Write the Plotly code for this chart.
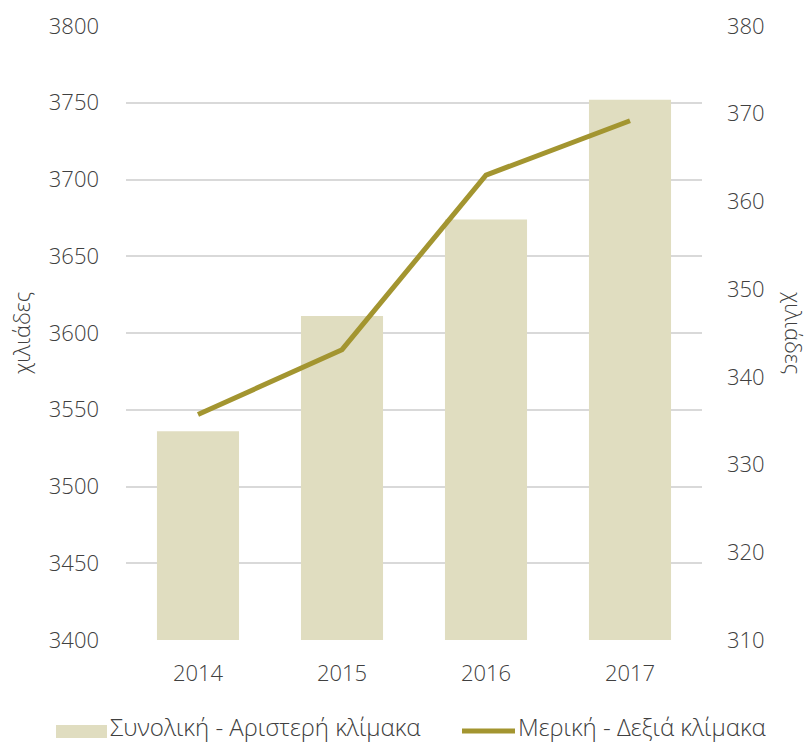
import plotly.graph_objects as go

years = ["2014", "2015", "2016", "2017"]
total = [3536, 3611, 3674, 3752]       # left scale, thousands
partial = [335.7, 343.1, 363.0, 369.2]  # right scale, thousands

left_ticks = [3400, 3450, 3500, 3550, 3600, 3650, 3700, 3750, 3800]
right_ticks = [310, 320, 330, 340, 350, 360, 370, 380]

bar_name = "Συνολική - Αριστερή κλίμακα"
line_name = "Μερική - Δεξιά κλίμακα"
axis_title = "χιλιάδες"

bar_color = "#E0DDC0"
line_color = "#A39530"
text_color = "#404040"
font_family = "Open Sans"
tick_size = 22
legend_size = 24

W, H = 812, 742
L, R, T, B = 126, 110, 26, 102
PW, PH = W - L - R, H - T - B


def px_x(px):
    """Horizontal pixel position -> paper coordinate."""
    return (px - L) / PW


def px_y(py):
    """Vertical pixel position (from top) -> paper coordinate."""
    return (H - B - py) / PH


fig = go.Figure()
fig.add_trace(go.Bar(
    x=years, y=total, name=bar_name,
    marker=dict(color=bar_color, line=dict(width=0)), width=0.57, yaxis="y",
))
fig.add_trace(go.Scatter(
    x=years, y=partial, name=line_name, mode="lines",
    line=dict(color=line_color, width=5), yaxis="y2",
))

# legend drawn below the plot: swatch + label for each series
legend_y = 731
text_y = 726
shapes = [
    dict(type="rect", xref="paper", yref="paper",
         x0=px_x(56), x1=px_x(107), y0=px_y(738), y1=px_y(725),
         fillcolor=bar_color, line=dict(width=0), layer="above"),
    dict(type="line", xref="paper", yref="paper",
         x0=px_x(462), x1=px_x(515), y0=px_y(legend_y), y1=px_y(legend_y),
         line=dict(color=line_color, width=5), layer="above"),
]
annotations = [
    dict(text=bar_name, xref="paper", yref="paper", x=px_x(108), y=px_y(text_y),
         xanchor="left", yanchor="middle", showarrow=False,
         font=dict(size=legend_size, color=text_color)),
    dict(text=line_name, xref="paper", yref="paper", x=px_x(516), y=px_y(text_y),
         xanchor="left", yanchor="middle", showarrow=False,
         font=dict(size=legend_size, color=text_color)),
    dict(text=axis_title, xref="paper", yref="paper", x=px_x(21), y=0.5,
         textangle=-90, showarrow=False, xanchor="center", yanchor="middle",
         font=dict(size=tick_size, color=text_color)),
    dict(text=axis_title, xref="paper", yref="paper", x=px_x(794), y=0.5,
         textangle=90, showarrow=False, xanchor="center", yanchor="middle",
         font=dict(size=tick_size, color=text_color)),
]

fig.update_layout(
    width=W, height=H,
    margin=dict(l=L, r=R, t=T, b=B, autoexpand=False),
    paper_bgcolor="white", plot_bgcolor="white",
    font=dict(family=font_family, size=tick_size, color=text_color, weight=300),
    showlegend=False,
    xaxis=dict(showgrid=False, showline=False, ticks="", tickfont=dict(size=tick_size),
               ticklabelstandoff=18),
    yaxis=dict(range=[3400, 3800], tickvals=left_ticks, showgrid=True,
               gridcolor="#D9D9D9", gridwidth=1.5, zeroline=False, showline=False,
               ticklabelstandoff=26, tickfont=dict(size=tick_size)),
    yaxis2=dict(range=[310, 380], tickvals=right_ticks, overlaying="y", side="right",
                showgrid=False, zeroline=False, showline=False,
                ticklabelstandoff=24, tickfont=dict(size=tick_size)),
    shapes=shapes,
    annotations=annotations,
)

fig.write_html("out.html")
